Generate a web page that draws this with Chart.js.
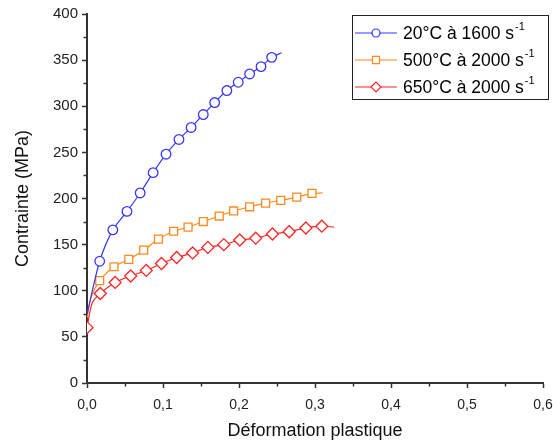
<!DOCTYPE html>
<html>
<head>
<meta charset="utf-8">
<script src="https://cdn.jsdelivr.net/npm/chart.js@4"></script>
<style>
  body { margin: 0; background: #fff; }
  #wrap { width: 553px; height: 442px; }
</style>
</head>
<body>
<div id="wrap"><canvas id="curve-chart"></canvas></div>
<script>
var seriesNames = ["20°C à 1600 s", "500°C à 2000 s", "650°C à 2000 s"];
var seriesColors = ["#3636ff", "#ff8a1e", "#ff2424"];
var seriesMarkers = ["circle", "rect", "rectRot"];

var xBlue = [0, 0.0167, 0.034, 0.0526, 0.070, 0.087, 0.104, 0.121, 0.137, 0.153, 0.168, 0.184, 0.199, 0.214, 0.229, 0.243, 0.256];
var yBlue = [74, 132, 166, 186, 206, 228, 248, 264, 277, 291, 304, 317, 326, 335, 343, 353, 358];

var xOrange = [0, 0.005, 0.0167, 0.0355, 0.055, 0.0746, 0.094, 0.114, 0.133, 0.153, 0.174, 0.193, 0.214, 0.235, 0.255, 0.276, 0.296, 0.31];
var yOrange = [70, 92, 111, 126, 134, 144, 156, 164.5, 169, 175, 181, 186.5, 191, 195, 198, 201.5, 205.5, 206];

var xRed = [0, 0.007, 0.0175, 0.037, 0.0575, 0.078, 0.098, 0.118, 0.139, 0.159, 0.180, 0.201, 0.222, 0.244, 0.266, 0.288, 0.309, 0.325];
var yRed = [60, 87, 97, 109, 116, 122, 129.5, 136, 141, 147, 150, 155, 157, 161.5, 164, 168, 170, 169];

// which points carry a marker (1) and which are only part of the line (0)
var markBlue = [0, 1, 1, 1, 1, 1, 1, 1, 1, 1, 1, 1, 1, 1, 1, 1, 0];
var markOrange = [0, 0, 1, 1, 1, 1, 1, 1, 1, 1, 1, 1, 1, 1, 1, 1, 1, 0];
var markRed = [1, 0, 1, 1, 1, 1, 1, 1, 1, 1, 1, 1, 1, 1, 1, 1, 1, 0];

var xTicks = [0, 0.1, 0.2, 0.3, 0.4, 0.5, 0.6];
var yTicks = [0, 50, 100, 150, 200, 250, 300, 350, 400];

function pairs(xs, ys) {
  return xs.map(function (x, i) { return { x: x, y: ys[i] }; });
}

var markerSize = [4.8, 5.6, 6];

function makeSet(i, xs, ys, marks) {
  return {
    label: seriesNames[i],
    data: pairs(xs, ys),
    borderColor: seriesColors[i],
    backgroundColor: "#fff",
    borderWidth: 1.2,
    pointStyle: seriesMarkers[i],
    pointRadius: marks.map(function (m) { return m ? markerSize[i] : 0; }),
    pointBorderWidth: 1.3,
    pointBackgroundColor: "#fff",
    pointBorderColor: seriesColors[i],
    tension: 0.3,
    showLine: true,
    clip: { left: 0, top: false, right: false, bottom: false },
  };
}

var axisColor = "#333";

// minor ticks between the labelled ones, and a legend with superscripts
var extras = {
  id: "extras",
  afterDraw: function (chart) {
    var ctx = chart.ctx;
    var xs = chart.scales.x, ys = chart.scales.y;
    ctx.save();
    ctx.strokeStyle = axisColor;
    ctx.lineWidth = 1.5;
    for (var i = 0; i < xTicks.length - 1; i++) {
      var px = Math.round(xs.getPixelForValue((xTicks[i] + xTicks[i + 1]) / 2)) + 0.5;
      ctx.beginPath();
      ctx.moveTo(px, ys.bottom);
      ctx.lineTo(px, ys.bottom + 3.5);
      ctx.stroke();
    }
    for (var j = 0; j < yTicks.length - 1; j++) {
      var py = Math.round(ys.getPixelForValue((yTicks[j] + yTicks[j + 1]) / 2)) + 0.5;
      ctx.beginPath();
      ctx.moveTo(xs.left, py);
      ctx.lineTo(xs.left - 3.5, py);
      ctx.stroke();
    }

    // legend
    var bx = 352.5, by = 15.5, bw = 196, bh = 84;
    ctx.lineWidth = 1;
    ctx.strokeStyle = "#222";
    ctx.strokeRect(bx, by, bw, bh);
    var rows = [33, 60, 87];
    chart.data.datasets.forEach(function (ds, k) {
      var ry = rows[k];
      ctx.strokeStyle = ds.borderColor;
      ctx.lineWidth = 1.2;
      ctx.beginPath();
      ctx.moveTo(355, ry);
      ctx.lineTo(397, ry);
      ctx.stroke();
      ctx.fillStyle = "#fff";
      Chart.helpers.drawPoint(ctx, {
        pointStyle: ds.pointStyle,
        radius: k === 0 ? 4 : 5,
        borderWidth: 1.2,
        rotation: 0,
      }, 376, ry);
      ctx.fillStyle = "#000";
      ctx.font = "17.5px 'Liberation Sans', Arial, sans-serif";
      ctx.textBaseline = "middle";
      ctx.textAlign = "left";
      ctx.fillText(ds.label, 403, ry + 1);
      var w = ctx.measureText(ds.label).width;
      ctx.font = "11px 'Liberation Sans', Arial, sans-serif";
      ctx.fillText("-1", 403 + w + 1, ry - 6);
    });
    ctx.restore();
  },
};

Chart.defaults.font.family = "'Liberation Sans', Arial, sans-serif";
Chart.defaults.color = "#222";

var curveChart = new Chart(document.getElementById("curve-chart"), {
  type: "scatter",
  data: {
    datasets: [
      makeSet(0, xBlue, yBlue, markBlue),
      makeSet(1, xOrange, yOrange, markOrange),
      makeSet(2, xRed, yRed, markRed),
    ],
  },
  options: {
    responsive: true,
    maintainAspectRatio: false,
    animation: false,
    layout: { padding: { top: 14, right: 10, left: 0, bottom: 0 } },
    plugins: {
      legend: { display: false },
      tooltip: { enabled: false },
    },
    scales: {
      x: {
        type: "linear",
        min: 0,
        max: 0.6,
        afterBuildTicks: function (scale) {
          scale.ticks = xTicks.map(function (v) { return { value: v }; });
        },
        afterFit: function (scale) {
          scale.height = 59;
          scale.paddingLeft = 0;
          scale.paddingRight = 0;
        },
        ticks: {
          font: { size: 14 },
          color: "#222",
          padding: 9,
          maxRotation: 0,
          callback: function (v) { return v.toFixed(1).replace(".", ","); },
        },
        grid: {
          drawOnChartArea: false,
          tickLength: 5,
          tickWidth: 1.5,
          tickColor: axisColor,
        },
        border: { color: axisColor, width: 2 },
        title: {
          display: true,
          text: "Déformation plastique",
          font: { size: 18 },
          color: "#111",
          padding: { top: 0, bottom: 0 },
        },
      },
      y: {
        min: 0,
        max: 400,
        afterBuildTicks: function (scale) {
          scale.ticks = yTicks.map(function (v) { return { value: v }; });
        },
        afterFit: function (scale) {
          scale.width = 87;
          scale.paddingTop = 0;
          scale.paddingBottom = 0;
        },
        ticks: {
          font: { size: 15 },
          color: "#222",
          padding: 4,
        },
        grid: {
          drawOnChartArea: false,
          tickLength: 5,
          tickWidth: 1.5,
          tickColor: axisColor,
        },
        border: { color: axisColor, width: 2 },
        title: {
          display: true,
          text: "Contrainte (MPa)",
          font: { size: 18 },
          color: "#111",
          padding: { top: 12, bottom: 0 },
        },
      },
    },
  },
  plugins: [extras],
});
</script>
</body>
</html>
